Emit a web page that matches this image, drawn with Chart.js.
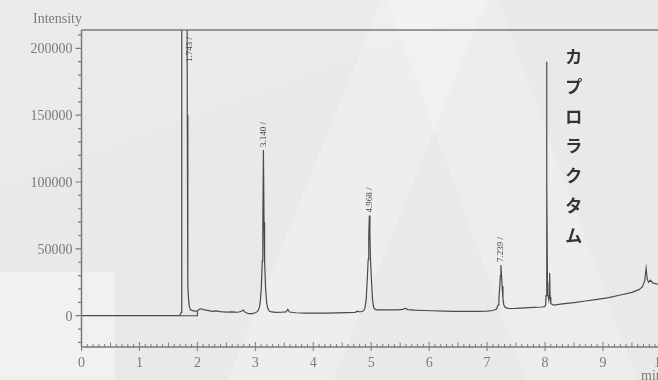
<!DOCTYPE html>
<html>
<head>
<meta charset="utf-8">
<script src="https://cdn.jsdelivr.net/npm/chart.js@4/dist/chart.umd.min.js"></script>
<style>
  html, body { margin: 0; padding: 0; width: 658px; height: 380px; overflow: hidden; }
  body {
    background:
      linear-gradient(rgba(255,255,255,.35), rgba(255,255,255,.35)) 0 272px / 115px 108px no-repeat,
      linear-gradient(112deg, rgba(255,255,255,0) 0 47%, rgba(255,255,255,.22) 47% 60%, rgba(255,255,255,0) 60%),
      linear-gradient(70deg, rgba(255,255,255,0) 0 66%, rgba(255,255,255,.18) 66% 80%, rgba(255,255,255,0) 80%),
      linear-gradient(160deg, rgba(255,255,255,.08) 0 30%, rgba(0,0,0,0) 30%),
      #e9e9e9;
  }
  canvas { display: block; }
</style>
</head>
<body>
<canvas id="chrom" width="658" height="380"></canvas>
<script>
// Chromatogram trace: retention time (min) and detector intensity
const retentionTimes = [
  0.00, 1.65, 1.70, 1.72, 1.728, 1.733, 1.743, 1.78, 1.815, 1.826, 1.832, 1.838, 1.847, 1.86, 1.88, 1.92, 1.96, 2.00,
  2.03, 2.07, 2.12, 2.18, 2.25, 2.32, 2.40, 2.50, 2.60, 2.70, 2.76, 2.79, 2.82, 2.88, 2.95,
  3.00, 3.04, 3.065, 3.085, 3.102, 3.12, 3.13, 3.140, 3.15, 3.16, 3.178, 3.195, 3.215, 3.24, 3.28,
  3.35, 3.45, 3.53, 3.56, 3.59, 3.70, 3.85, 4.00, 4.20, 4.40, 4.60, 4.72, 4.77, 4.80, 4.85,
  4.873, 4.893, 4.913, 4.93, 4.948, 4.958, 4.968, 4.978, 4.988, 5.006, 5.023, 5.043, 5.07, 5.10,
  5.25, 5.45, 5.55, 5.59, 5.63, 5.75, 5.90, 6.05, 6.25, 6.45, 6.65, 6.85, 7.00, 7.10,
  7.164, 7.189, 7.204, 7.219, 7.229, 7.239, 7.249, 7.259, 7.274, 7.289, 7.314, 7.36,
  7.50, 7.65, 7.80, 7.95, 7.99, 8.01, 8.018, 8.026, 8.030, 8.034, 8.042, 8.05, 8.065, 8.072, 8.080, 8.088, 8.10, 8.15,
  8.30, 8.50, 8.70, 8.90, 9.10, 9.30, 9.50, 9.62, 9.68, 9.72, 9.745, 9.765, 9.79, 9.82, 9.86, 9.92, 10.00
];
const intensities = [
  0, 0, 300, 2500, 30000, 300000, 1200000, 800000, 400000, 150000, 60000, 22000, 13000, 7000, 4500, 3800, 3500, 3600,
  4800, 5200, 4400, 4000, 3300, 3600, 3000, 2700, 2900, 2600, 3300, 4200, 2800, 1500, 1600,
  2200, 3200, 5500, 10000, 20000, 41000, 70000, 124000, 70000, 41000, 20000, 10000, 5500, 3500, 2800,
  2500, 2600, 2900, 4800, 2800, 2200, 2000, 1900, 1900, 2100, 2300, 2500, 3400, 2800, 3300,
  4000, 6000, 12000, 25000, 42000, 60000, 75000, 60000, 42000, 25000, 12000, 6000, 4700, 4400,
  4300, 4400, 4700, 5600, 4600, 4200, 3900, 3700, 3500, 3300, 3200, 3300, 3500, 3900,
  5000, 8000, 13000, 22000, 30000, 38000, 30000, 22000, 13000, 8000, 6200, 5400,
  5500, 5800, 6200, 6500, 6800, 8000, 15000, 100000, 190000, 100000, 25000, 16000, 12000, 15000, 32000, 14000, 9000, 8000,
  8800, 9800, 11000, 12200, 13500, 15500, 17500, 19500, 21500, 26000, 35500, 27000, 25000, 26600, 24500, 23800, 23500
];

// Integration baseline drawn under the solvent peak
const markerTimes = [1.65, 2.00, 2.00];
const markerLevels = [0, 0, 3600];

// Retention-time annotations
const peakLabelTimes = [1.743, 3.140, 4.968, 7.239];
const peakLabelTexts = ['1.743 /', '3.140 /', '4.968 /', '7.239 /'];

// Compound name printed beside its peak
const compoundName = 'カプロラクタム';
const compoundTime = 8.030;

// Axis ticks
const yTickValues = [0, 50000, 100000, 150000, 200000];
const xTickValues = [0, 1, 2, 3, 4, 5, 6, 7, 8, 9, 10];

const AXIS_COLOR = '#7b7b7b';
const LABEL_COLOR = '#7a7a7a';
const SERIF = '"Liberation Serif", "DejaVu Serif", serif';

const toPoints = (xs, ys) => xs.map((x, i) => ({ x: x, y: ys[i] }));

const chromDecor = {
  id: 'chromDecor',
  afterDraw(chart) {
    const ctx = chart.ctx;
    const xs = chart.scales.x;
    const ys = chart.scales.y;
    const area = chart.chartArea;
    ctx.save();

    // frame: top line, left axis, bottom axis
    ctx.strokeStyle = AXIS_COLOR;
    ctx.lineWidth = 1.5;
    ctx.beginPath();
    ctx.moveTo(area.left, area.top);
    ctx.lineTo(area.right, area.top);
    ctx.moveTo(area.left, area.top);
    ctx.lineTo(area.left, area.bottom);
    ctx.moveTo(area.left, area.bottom);
    ctx.lineTo(area.right, area.bottom);
    ctx.stroke();

    // y ticks: majors from yTickValues, minors every 10000
    ctx.lineWidth = 1.2;
    ctx.beginPath();
    for (let v = -20000; v <= ys.max; v += 10000) {
      const py = ys.getPixelForValue(v);
      const major = yTickValues.includes(v);
      ctx.moveTo(area.left, py);
      ctx.lineTo(area.left - (major ? 6 : 3.5), py);
    }
    ctx.stroke();

    // x ticks: minors every 0.1 min pointing up, integers crossing the axis
    ctx.lineWidth = 1;
    ctx.beginPath();
    for (let k = 0; k <= 100; k++) {
      const v = k / 10;
      if (v > xs.max) break;
      const px = xs.getPixelForValue(v);
      if (k % 10 === 0) {
        ctx.moveTo(px, area.bottom - 5);
        ctx.lineTo(px, area.bottom + 4);
      } else if (k % 5 === 0) {
        ctx.moveTo(px, area.bottom - 4.5);
        ctx.lineTo(px, area.bottom);
      } else {
        ctx.moveTo(px, area.bottom - 3);
        ctx.lineTo(px, area.bottom);
      }
    }
    ctx.stroke();

    // tick labels
    ctx.fillStyle = LABEL_COLOR;
    ctx.font = '14px ' + SERIF;
    ctx.textBaseline = 'alphabetic';
    ctx.textAlign = 'right';
    yTickValues.forEach(v => {
      ctx.fillText(String(v), area.left - 9, ys.getPixelForValue(v) + 4.8);
    });
    ctx.textAlign = 'center';
    xTickValues.forEach(v => {
      ctx.fillText(String(v), xs.getPixelForValue(v), area.bottom + 20);
    });

    // axis titles
    ctx.textAlign = 'left';
    ctx.fillText('Intensity', 33, 23);
    ctx.fillText('min', 641, 380);

    // retention-time annotations, written upwards above each apex
    ctx.fillStyle = '#444';
    ctx.font = '9px ' + SERIF;
    ctx.textBaseline = 'middle';
    peakLabelTimes.forEach((t, i) => {
      const idx = retentionTimes.indexOf(t);
      const px = xs.getPixelForValue(t);
      let base = ys.getPixelForValue(intensities[idx]) - 3;
      let dx = 0;
      if (base < area.top + 32) { base = area.top + 32; dx = 7.5; }
      ctx.save();
      ctx.translate(px + dx, base);
      ctx.rotate(-Math.PI / 2);
      ctx.fillText(peakLabelTexts[i], 0, 0);
      ctx.restore();
    });

    // compound name, one character per line
    ctx.fillStyle = '#333';
    ctx.font = 'bold 17px "Noto Sans CJK JP"';
    ctx.textAlign = 'center';
    ctx.textBaseline = 'middle';
    const cx = xs.getPixelForValue(compoundTime) + 27;
    Array.from(compoundName).forEach((ch, i) => {
      ctx.fillText(ch, cx, area.top + 26.5 + i * 29.8);
    });

    ctx.restore();
  }
};

new Chart(document.getElementById('chrom'), {
  type: 'line',
  data: {
    datasets: [
      {
        data: toPoints(retentionTimes, intensities),
        borderColor: '#4a4a4a',
        borderWidth: 1.2,
        pointRadius: 0,
        tension: 0
      },
      {
        data: toPoints(markerTimes, markerLevels),
        borderColor: '#4a4a4a',
        borderWidth: 1.1,
        pointRadius: 0,
        tension: 0
      }
    ]
  },
  options: {
    responsive: false,
    animation: false,
    devicePixelRatio: 1,
    layout: { padding: { top: 30, right: 0, bottom: 0, left: 0 } },
    plugins: { legend: { display: false }, tooltip: { enabled: false } },
    scales: {
      x: {
        type: 'linear',
        min: 0,
        max: 9.95,
        grid: { display: false },
        border: { display: false },
        ticks: { display: false },
        afterFit(scale) { scale.height = 33; }
      },
      y: {
        type: 'linear',
        min: -23400,
        max: 213700,
        grid: { display: false },
        border: { display: false },
        ticks: { display: false },
        afterFit(scale) { scale.width = 81.5; }
      }
    }
  },
  plugins: [chromDecor]
});
</script>
</body>
</html>
